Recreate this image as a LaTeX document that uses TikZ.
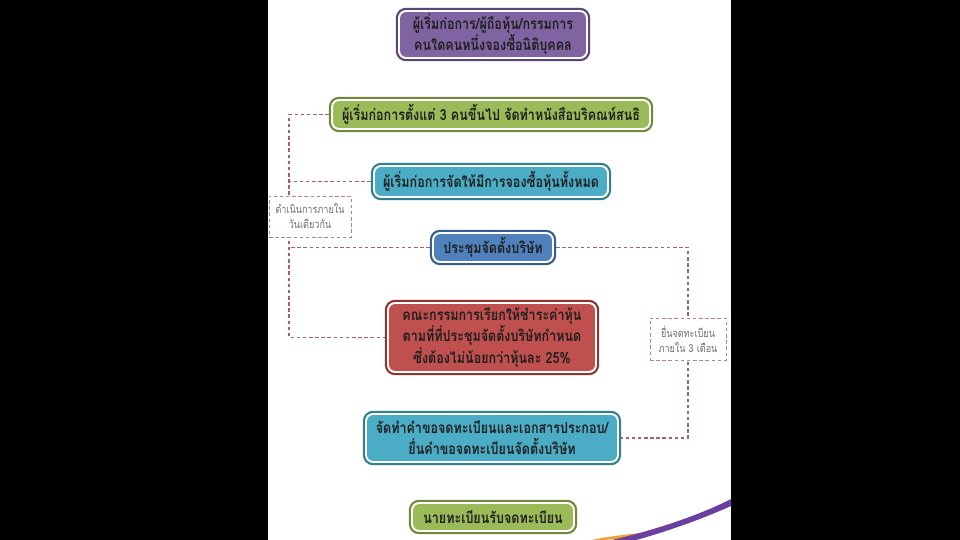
\documentclass[tikz,border=0pt]{standalone}
\usepackage{fontspec}
\newfontfamily\thaifont[Script=Thai, FakeStretch=0.82]{Loma}
\usetikzlibrary{positioning, calc}
\definecolor{bxpurple}{HTML}{8064A2}
\definecolor{bxpurpledk}{HTML}{5C4677}
\definecolor{bxgreen}{HTML}{9BBB59}
\definecolor{bxgreendk}{HTML}{6F8A3A}
\definecolor{bxteal}{HTML}{4BACC6}
\definecolor{bxtealdk}{HTML}{317F94}
\definecolor{bxblue}{HTML}{4F81BD}
\definecolor{bxbluedk}{HTML}{355E8E}
\definecolor{bxred}{HTML}{C0504D}
\definecolor{bxreddk}{HTML}{8E3532}
\definecolor{lnk}{HTML}{A8606A}
\definecolor{lbltext}{HTML}{6E6E6E}
\definecolor{swpurple}{HTML}{6A3FA0}
\definecolor{sworange}{HTML}{F0A030}

\begin{document}
\begin{tikzpicture}[x=0.02cm, y=-0.02cm,
    flowbox/.style 2 args={fill=#1, draw=white, line width=1.1pt,
              preaction={draw=#2, line width=3.6pt},
              rounded corners=4pt, text=black!88, align=center,
              inner sep=0pt, outer sep=1.8pt,
              font=\thaifont\bfseries\fontsize{8.7}{12}\selectfont},
    lbl/.style={draw=lnk!80, dashed, dash pattern=on 2pt off 1.5pt,
              line width=0.5pt, fill=white, text=lbltext, align=center,
              inner sep=0pt, font=\thaifont\fontsize{6.3}{8.6}\selectfont},
    link/.style={draw=lnk, dash pattern=on 2pt off 1.5pt, line width=0.6pt}]
    \useasboundingbox (0,0) rectangle (960,540);
    \fill[white] (0,0) rectangle (960,540);
    \fill[black] (0,0) rectangle (268,540);
    \fill[black] (731,0) rectangle (960,540);
    % slide swoosh
    \fill[sworange] (592,540) .. controls (605,537) and (622,535) .. (640,533)
      -- (644,536) .. controls (628,538) and (614,539) .. (604,540) -- cycle;
    \fill[swpurple] (612,540) .. controls (655,530) and (700,515) .. (731,499)
      -- (731,506) .. controls (700,520) and (662,533) .. (636,540) -- cycle;
    % boxes
    \node[flowbox={bxpurple}{bxpurpledk}, minimum width=3.76cm, minimum height=0.94cm]
      (founder) at (493,34.5) {ผู้เริ่มก่อการ/ผู้ถือหุ้น/กรรมการ\\คนใดคนหนึ่งจองซื้อนิติบุคคล};
    \node[flowbox={bxgreen}{bxgreendk}, minimum width=6.36cm, minimum height=0.58cm]
      (memo) at (491,114.5) {ผู้เริ่มก่อการตั้งแต่ 3 คนขึ้นไป จัดทำหนังสือบริคณห์สนธิ};
    \node[flowbox={bxteal}{bxtealdk}, minimum width=4.68cm, minimum height=0.62cm]
      (shares) at (491,181.5) {ผู้เริ่มก่อการจัดให้มีการจองซื้อหุ้นทั้งหมด};
    \node[flowbox={bxblue}{bxbluedk}, minimum width=2.40cm, minimum height=0.58cm]
      (meeting) at (493,247.5) {ประชุมจัดตั้งบริษัท};
    \node[flowbox={bxred}{bxreddk}, minimum width=4.16cm, minimum height=1.38cm]
      (payment) at (492,337.5) {คณะกรรมการเรียกให้ชำระค่าหุ้น\\ตามที่ที่ประชุมจัดตั้งบริษัทกำหนด\\ซึ่งต้องไม่น้อยกว่าหุ้นละ 25\%};
    \node[flowbox={bxteal}{bxtealdk}, minimum width=5.04cm, minimum height=0.96cm]
      (filing) at (492,438) {จัดทำคำขอจดทะเบียนและเอกสารประกอบ/\\ยื่นคำขอจดทะเบียนจัดตั้งบริษัท};
    \node[flowbox={bxgreen}{bxgreendk}, minimum width=3.24cm, minimum height=0.56cm]
      (registrar) at (493,517) {นายทะเบียนรับจดทะเบียน};
    % dashed brackets
    \coordinate (lx) at (289,0);
    \coordinate (rx) at (688,0);
    \draw[link] (memo.west) -- (memo.west -| lx) -- (payment.west -| lx) -- (payment.west);
    \draw[link] (shares.west) -- (shares.west -| lx);
    \draw[link] (meeting.west) -- (meeting.west -| lx);
    \draw[link] (meeting.east) -- (meeting.east -| rx) -- (filing.east -| rx) -- (filing.east);
    \node[lbl, minimum width=1.64cm, minimum height=0.82cm] (sameday) at (310,216.5)
      {ดำเนินการภายใน\\วันเดียวกัน};
    \node[lbl, minimum width=1.52cm, minimum height=0.84cm] (within) at (688,339)
      {ยื่นจดทะเบียน\\ภายใน 3 เดือน};
\end{tikzpicture}
\end{document}
